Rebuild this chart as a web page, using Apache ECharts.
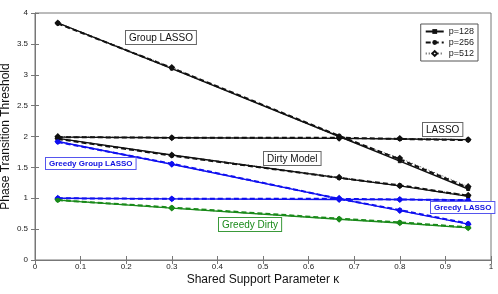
<!DOCTYPE html>
<html><head><meta charset="utf-8">
<script src="https://cdn.jsdelivr.net/npm/echarts@6/dist/echarts.min.js"></script>
<style>html,body{margin:0;padding:0;background:#fff}#c{width:498px;height:294px}</style>
</head><body><div id="c"></div>
<script>
const kappa = [0.05, 0.3, 0.667, 0.8, 0.95];
const pNames = ['p=128', 'p=256', 'p=512'];
const xTicks = [0, 0.1, 0.2, 0.3, 0.4, 0.5, 0.6, 0.7, 0.8, 0.9, 1];
const yTicks = [0, 0.5, 1, 1.5, 2, 2.5, 3, 3.5, 4];

// values per method, for p=128, p=256, p=512
const groupLasso = [
  [3.84, 3.10, 2.00, 1.60, 1.15],
  [3.83, 3.11, 2.01, 1.63, 1.17],
  [3.84, 3.12, 1.99, 1.65, 1.19]
];
const lasso = [
  [1.99, 1.98, 1.97, 1.96, 1.95],
  [1.99, 1.98, 1.98, 1.96, 1.94],
  [2.00, 1.98, 1.97, 1.97, 1.95]
];
const dirtyModel = [
  [1.97, 1.70, 1.33, 1.20, 1.03],
  [1.96, 1.69, 1.33, 1.21, 1.04],
  [1.97, 1.70, 1.34, 1.20, 1.05]
];
const greedyGroupLasso = [
  [1.92, 1.55, 0.99, 0.80, 0.58],
  [1.91, 1.56, 0.99, 0.81, 0.59],
  [1.92, 1.55, 1.00, 0.80, 0.58]
];
const greedyLasso = [
  [1.00, 0.99, 0.98, 0.98, 0.97],
  [1.00, 0.99, 0.99, 0.98, 0.97],
  [1.00, 0.99, 0.98, 0.98, 0.96]
];
const greedyDirty = [
  [0.97, 0.84, 0.66, 0.60, 0.52],
  [0.97, 0.85, 0.67, 0.61, 0.53],
  [0.98, 0.84, 0.66, 0.60, 0.52]
];

const methods = [
  {vals: groupLasso, color: '#111111'},
  {vals: lasso, color: '#111111'},
  {vals: dirtyModel, color: '#111111'},
  {vals: greedyGroupLasso, color: '#1010f0'},
  {vals: greedyLasso, color: '#1010f0'},
  {vals: greedyDirty, color: '#1a8a1a'}
];
const pStyle = [
  {type: 'solid', width: 1.4, symbol: 'rect', size: 3, opacity: 1},
  {type: [5, 3], width: 2, symbol: 'circle', size: 4, opacity: 1},
  {type: [1, 2], width: 1, symbol: 'emptyDiamond', size: 4, opacity: 0.7}
];

const series = [];
methods.forEach(m => {
  m.vals.forEach((v, pi) => {
    const st = pStyle[pi];
    series.push({
      name: pNames[pi], type: 'line',
      data: kappa.map((k, i) => [k, v[i]]),
      symbol: st.symbol, symbolSize: st.size, showSymbol: true,
      lineStyle: {color: m.color, type: st.type, width: st.width, opacity: st.opacity},
      itemStyle: {color: m.color, borderColor: m.color},
      z: 3 - pi, animation: false
    });
  });
});

function box(text, left, top, color, bold, size, border) {
  return {
    type: 'text', left: left, top: top, z: 100,
    style: {
      text: text, fill: color, font: (bold ? 'bold ' : '') + size + 'px "Liberation Sans", Arial, sans-serif',
      backgroundColor: '#fff', borderColor: border, borderWidth: 1, padding: [2, 3, 1, 3]
    }
  };
}

const tickOnly = {
  axisLine: {show: false},
  axisTick: {show: true, inside: true, length: 4, lineStyle: {color: '#777'}},
  axisLabel: {show: false},
  splitLine: {show: false}
};

const chart = echarts.init(document.getElementById('c'), null, {renderer: 'canvas'});
chart.setOption({
  animation: false,
  backgroundColor: '#fff',
  grid: {left: 35, right: 7, top: 13, bottom: 34, show: true, borderColor: '#777', borderWidth: 1,
    containLabel: false, outerBoundsMode: 'none'},
  xAxis: [{
    type: 'value', min: 0, max: 1, interval: 0.1,
    axisLine: {show: true, lineStyle: {color: '#777'}},
    axisTick: {show: true, inside: true, length: 4, lineStyle: {color: '#777'}},
    splitLine: {show: false},
    axisLabel: {color: '#222', fontSize: 8, margin: 3, fontFamily: 'Liberation Sans',
      formatter: v => xTicks.includes(+v.toFixed(1)) ? String(+v.toFixed(1)) : ''},
    name: 'Shared Support Parameter κ', nameLocation: 'middle', nameGap: 14, nameMoveOverlap: false,
    nameTextStyle: {color: '#111', fontSize: 12, fontFamily: 'Liberation Sans'}
  }, Object.assign({type: 'value', position: 'top', min: 0, max: 1, interval: 0.1}, tickOnly)],
  yAxis: [{
    type: 'value', min: 0, max: 4, interval: 0.5,
    axisLine: {show: true, lineStyle: {color: '#777'}},
    axisTick: {show: true, inside: true, length: 4, lineStyle: {color: '#777'}},
    splitLine: {show: false},
    axisLabel: {color: '#222', fontSize: 8, margin: 7, fontFamily: 'Liberation Sans',
      formatter: v => yTicks.includes(v) ? String(v) : ''},
    name: 'Phase Transition Threshold', nameLocation: 'middle', nameGap: 23, nameMoveOverlap: false,
    nameTextStyle: {color: '#111', fontSize: 12, fontFamily: 'Liberation Sans'}
  }, Object.assign({type: 'value', position: 'right', min: 0, max: 4, interval: 0.5}, tickOnly)],
  legend: {
    data: pNames, orient: 'vertical', right: 20, top: 24,
    backgroundColor: '#fff', borderColor: '#555', borderWidth: 1,
    padding: [3, 4, 3, 4], itemGap: 2, itemWidth: 18, itemHeight: 6,
    textStyle: {fontSize: 9, color: '#222', fontFamily: 'Liberation Sans'},
    selectedMode: false
  },
  graphic: [
    box('Group LASSO', 125, 30, '#111', false, 10, '#666'),
    box('LASSO', 422, 122, '#111', false, 10, '#666'),
    box('Dirty Model', 263, 151, '#111', false, 10, '#666'),
    box('Greedy Group LASSO', 45, 157, '#1010e0', true, 8, '#5555ee'),
    box('Greedy LASSO', 430, 201, '#1010e0', true, 8, '#5555ee'),
    box('Greedy Dirty', 218, 217, '#1a8a1a', false, 10, '#3a9a3a')
  ],
  series: series
});
</script></body></html>
